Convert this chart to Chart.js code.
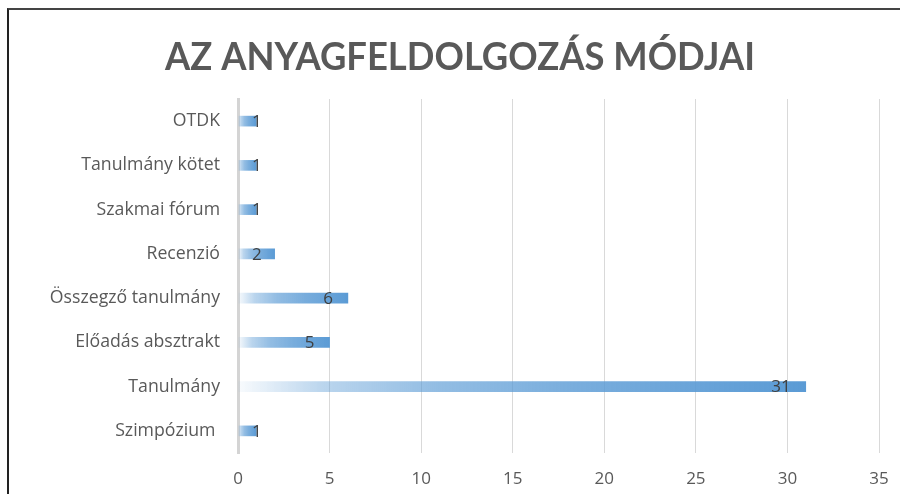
<!DOCTYPE html>
<html>
<head>
<meta charset="utf-8">
<script src="https://cdn.jsdelivr.net/npm/chart.js@4/dist/chart.umd.min.js"></script>
<style>
html,body{margin:0;padding:0;background:#fff;}
#wrap{position:relative;width:900px;height:494px;}
#frame{position:absolute;left:7px;top:8px;right:0;bottom:0;border-left:2px solid #222;border-top:2px solid #444;pointer-events:none;}
canvas{position:absolute;left:0;top:0;}
</style>
</head>
<body>
<div id="wrap"><canvas id="c" width="900" height="494"></canvas><div id="frame"></div></div>
<script>
const titleText = 'AZ ANYAGFELDOLGOZÁS MÓDJAI';
const categories = ['OTDK', 'Tanulmány kötet', 'Szakmai fórum', 'Recenzió', 'Összegző tanulmány', 'Előadás absztrakt', 'Tanulmány', 'Szimpózium '];
const values = [1, 1, 1, 2, 6, 5, 31, 1];
const xTicks = [0, 5, 10, 15, 20, 25, 30, 35];

const FONT = '"Open Sans", Lato, sans-serif';
const BLUE = '91,155,213';
function barFill(ctx) {
  const chart = ctx.chart;
  const xs = chart.scales.x;
  if (!xs || !chart.chartArea || ctx.parsed === undefined) return 'rgb(' + BLUE + ')';
  const x0 = xs.getPixelForValue(0);
  const x1 = xs.getPixelForValue(ctx.parsed.x);
  if (!isFinite(x0) || !isFinite(x1) || x1 <= x0) return 'rgb(' + BLUE + ')';
  const g = chart.ctx.createLinearGradient(x0, 0, x1, 0);
  g.addColorStop(0, 'rgba(' + BLUE + ',0.04)');
  g.addColorStop(0.15, 'rgba(' + BLUE + ',0.42)');
  g.addColorStop(0.35, 'rgba(' + BLUE + ',0.66)');
  g.addColorStop(0.6, 'rgba(' + BLUE + ',0.82)');
  g.addColorStop(1, 'rgba(' + BLUE + ',1)');
  return g;
}

const titlePlugin = {
  id: 'centeredTitle',
  afterDraw(chart) {
    const c = chart.ctx;
    c.save();
    c.font = 'bold 38px Lato, "Open Sans", sans-serif';
    c.fillStyle = '#595959';
    c.textAlign = 'center';
    c.textBaseline = 'alphabetic';
    const w = c.measureText(titleText).width;
    const sx = 590 / w;
    c.translate(460, 70);
    c.scale(sx, 1);
    c.fillText(titleText, 0, 0);
    c.restore();
  }
};

const labelPlugin = {
  id: 'barLabels',
  afterDatasetsDraw(chart) {
    const c = chart.ctx;
    const meta = chart.getDatasetMeta(0);
    const x0 = chart.scales.x.getPixelForValue(0);
    c.save();
    c.font = '17px ' + FONT;
    c.fillStyle = '#404040';
    c.textAlign = 'right';
    c.textBaseline = 'middle';
    meta.data.forEach((bar, i) => {
      const txt = String(chart.data.datasets[0].data[i]);
      const w = c.measureText(txt).width;
      const right = Math.max(bar.x - 15, x0 + 14 + w);
      c.fillText(txt, right, bar.y + 1);
    });
    c.restore();
  }
};

new Chart(document.getElementById('c'), {
  type: 'bar',
  data: {
    labels: categories,
    datasets: [{
      data: values,
      backgroundColor: barFill,
      barThickness: 10,
      borderWidth: 0
    }]
  },
  options: {
    indexAxis: 'y',
    responsive: false,
    animation: false,
    devicePixelRatio: 1,
    layout: { padding: { left: 0, right: 21, top: 99, bottom: 0 } },
    plugins: {
      legend: { display: false },
      tooltip: { enabled: false },
      title: { display: false }
    },
    scales: {
      x: {
        min: 0, max: 35,
        afterBuildTicks(scale) { scale.ticks = xTicks.map(v => ({ value: v })); },
        afterFit(scale) { scale.height = 41; scale.paddingLeft = 0; scale.paddingRight = 0; },
        grid: { color: '#d9d9d9', lineWidth: 1, drawTicks: false },
        border: { display: false },
        ticks: { color: '#595959', font: { family: FONT, size: 17 }, padding: 16, maxRotation: 0 }
      },
      y: {
        afterFit(scale) { scale.width = 238; scale.paddingTop = 0; scale.paddingBottom = 0; },
        grid: { display: false, drawTicks: false },
        border: { display: true, color: '#d4d4d4', width: 3 },
        ticks: { color: '#595959', font: { family: FONT, size: 17.7 }, padding: 18 }
      }
    }
  },
  plugins: [labelPlugin, titlePlugin]
});
</script>
</body>
</html>
